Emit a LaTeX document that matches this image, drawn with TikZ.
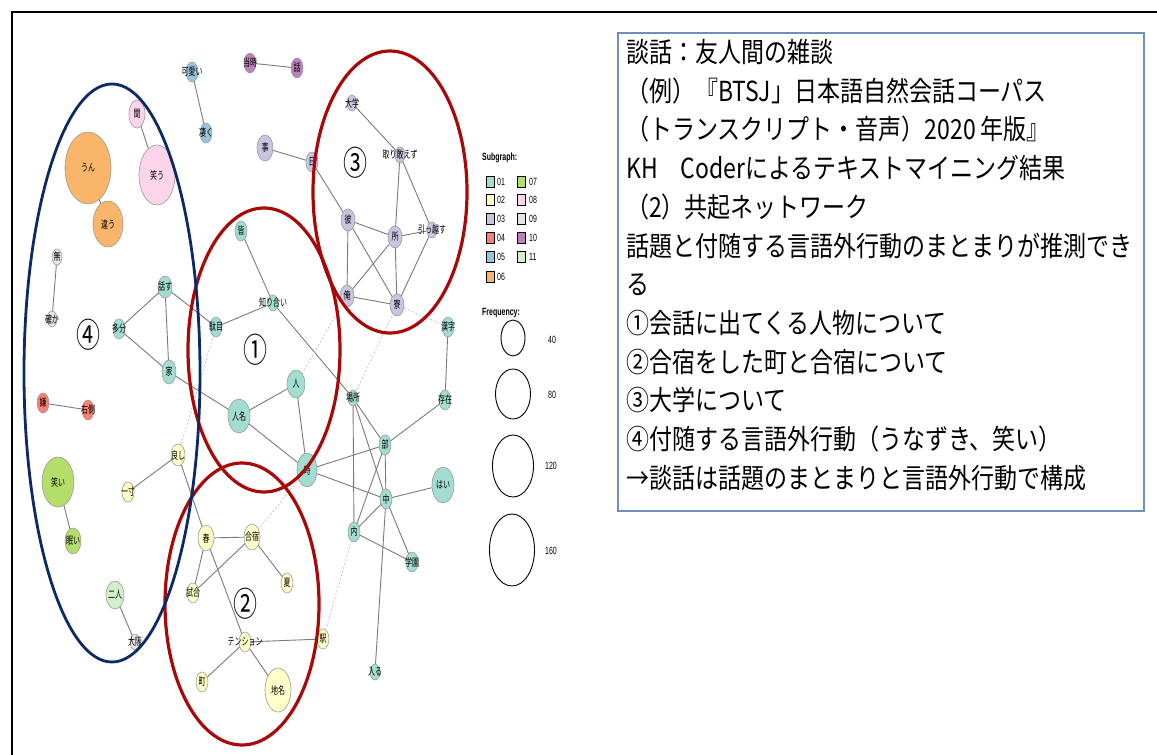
\documentclass[tikz,border=0pt]{standalone}
\usepackage{graphicx}
\usepackage{fontspec}
\setmainfont{Noto Sans CJK JP}
\newfontfamily\jpf{Noto Sans CJK JP}
\newfontfamily\lsans{Liberation Sans}
\usetikzlibrary{shapes.geometric,backgrounds}
\definecolor{c01}{HTML}{A3DDD2}
\definecolor{c02}{HTML}{FFFFC8}
\definecolor{c03}{HTML}{C8C4E2}
\definecolor{c04}{HTML}{FB8072}
\definecolor{c05}{HTML}{98C3DE}
\definecolor{c06}{HTML}{F9B56A}
\definecolor{c07}{HTML}{B3DE69}
\definecolor{c08}{HTML}{FCD5EA}
\definecolor{c09}{HTML}{E4E4E4}
\definecolor{c10}{HTML}{BC80BD}
\definecolor{c11}{HTML}{D2EFCB}
\definecolor{ndline}{HTML}{9A9A9A}
\definecolor{edgec}{HTML}{7A7A7A}
\definecolor{redc}{HTML}{A80808}
\definecolor{bluec}{HTML}{0B2A66}
\definecolor{boxc}{HTML}{7090BC}
\newcommand{\nlab}[1]{\scalebox{1}[1.5]{\fontsize{7}{7}\selectfont #1}}
\newcommand{\tlin}[1]{\scalebox{1}[1.2]{\fontsize{23}{23}\selectfont #1}}
\newcommand{\legtx}[1]{\scalebox{1}[1.5]{\lsans\fontsize{7}{7}\selectfont #1}}
\tikzset{
  nodest/.style={ellipse, draw=ndline, line width=0.6pt, inner sep=0pt},
  lblst/.style={inner sep=0pt, text=black},
  edge/.style={draw=edgec, line width=0.9pt},
  weak/.style={draw=gray!50, line width=0.7pt, dash pattern=on 2pt off 2pt},
  bigring/.style={line width=3.2pt},
  cnum/.style={inner sep=0pt, font=\jpf\fontsize{24}{24}\selectfont},
  sq/.style={draw=black, line width=0.6pt, minimum width=8pt, minimum height=11pt, inner sep=0pt},
  legt/.style={anchor=west, inner sep=0pt},
  fcirc/.style={ellipse, draw=black, line width=0.9pt, inner sep=0pt},
  tline/.style={anchor=west, inner sep=0pt}
}
\newcommand{\ndx}[6]{\node[nodest, fill=#3, minimum width=#4pt, minimum height=#5pt, label={[lblst]center:\nlab{#6}}] (#1) at (#2) {};}
\begin{document}
\begin{tikzpicture}[x=1pt,y=-1pt]
\useasboundingbox (0,0) rectangle (1157,755);
\draw[line width=1.2pt] (12,755) -- (12,12) -- (1157,12);

% ---- nodes ----
\ndx{kawaii}{192,72}{c05}{12}{20}{可愛い}
\ndx{sugoku}{206,133}{c05}{12}{20}{凄く}
\ndx{touji}{250,63}{c10}{12}{20}{当時}
\ndx{hanashi}{297,68}{c10}{12}{20}{話}
\ndx{koto}{265,148}{c03}{16}{26}{事}
\ndx{hi}{312,162}{c03}{12}{20}{日}
\ndx{daigaku}{352,103}{c03}{10}{16}{大学}
\ndx{toriaezu}{400,155}{c03}{10}{16}{取り敢えず}
\ndx{kare}{348,220}{c03}{14}{22}{彼}
\ndx{tokoro}{395,237}{c03}{14}{22}{所}
\ndx{hikkosu}{432,230}{c03}{10}{16}{引っ越す}
\ndx{ore}{347,296}{c03}{14}{22}{俺}
\ndx{ryou}{397,305}{c03}{14}{22}{寮}

\ndx{kiku}{137,114}{c08}{16}{28}{聞}
\ndx{warau}{157,175}{c08}{36}{60}{笑う}
\ndx{un}{88,168}{c06}{46}{72}{うん}
\ndx{chigau}{108,224}{c06}{30}{46}{違う}
\ndx{mu}{57,257}{c09}{10}{16}{無}
\ndx{tashika}{52,319}{c09}{10}{16}{確か}
\ndx{iya}{43,403}{c04}{12}{20}{嫌}
\ndx{migi}{88,410}{c04}{12}{20}{右側}
\ndx{warai}{58,482}{c07}{32}{50}{笑い}
\ndx{nemui}{73,541}{c07}{16}{26}{眠い}
\ndx{futari}{115,595}{c11}{18}{28}{二人}
\ndx{oosaka}{135,642}{c09}{10}{16}{大阪}

\ndx{mina}{241,231}{c01}{12}{20}{皆}
\ndx{shiri}{273,303}{c01}{10}{16}{知り合い}
\ndx{dame}{216,327}{c01}{12}{20}{駄目}
\ndx{hanasu}{165,287}{c01}{14}{22}{話す}
\ndx{tabun}{119,329}{c01}{12}{20}{多分}
\ndx{ie}{169,372}{c01}{14}{24}{家}
\ndx{hito}{296,384}{c01}{18}{28}{人}
\ndx{jinmei}{239,416}{c01}{22}{34}{人名}
\ndx{toki}{307,470}{c01}{20}{34}{時}
\ndx{basho}{353,398}{c01}{10}{16}{場所}
\ndx{kanji}{448,327}{c01}{12}{20}{漢字}
\ndx{sonzai}{445,400}{c01}{12}{20}{存在}
\ndx{bu}{385,445}{c01}{12}{20}{部}
\ndx{naka}{386,499}{c01}{12}{20}{中}
\ndx{hai}{443,485}{c01}{22}{36}{はい}
\ndx{uchi}{354,532}{c01}{12}{20}{内}
\ndx{gakuen}{412,562}{c01}{12}{20}{学園}
\ndx{hairu}{375,672}{c01}{10}{16}{入る}

\ndx{yoshi}{178,455}{c02}{14}{22}{良し}
\ndx{chotto}{128,492}{c02}{12}{20}{一寸}
\ndx{haru}{206,538}{c02}{16}{26}{春}
\ndx{gasshuku}{252,537}{c02}{16}{26}{合宿}
\ndx{shiai}{193,593}{c02}{12}{20}{試合}
\ndx{natsu}{287,583}{c02}{12}{20}{夏}
\ndx{tension}{245,642}{c02}{12}{20}{テンション}
\ndx{eki}{323,639}{c02}{12}{20}{駅}
\ndx{machi}{202,682}{c02}{12}{20}{町}
\ndx{chimei}{278,690}{c02}{26}{44}{地名}

% ---- edges ----
\begin{scope}[on background layer]
\foreach \a/\b in {kawaii/sugoku, touji/hanashi, koto/hi, hi/kare, daigaku/toriaezu,
  toriaezu/tokoro, toriaezu/hikkosu, kare/tokoro, tokoro/hikkosu, kare/ore, kare/ryou,
  tokoro/ore, tokoro/ryou, hikkosu/ryou, ore/ryou,
  kiku/warau, un/chigau, mu/tashika, iya/migi, warai/nemui, futari/oosaka,
  mina/shiri, shiri/dame, shiri/basho, dame/hanasu, hanasu/tabun, hanasu/ie, tabun/ie,
  ie/jinmei, jinmei/hito, jinmei/toki, hito/toki, toki/bu, toki/naka, basho/bu,
  basho/naka, basho/uchi, bu/naka, bu/uchi, bu/sonzai, sonzai/kanji, naka/hai,
  naka/uchi, naka/gakuen, naka/hairu, uchi/gakuen,
  yoshi/chotto, yoshi/haru, haru/gasshuku, haru/shiai, gasshuku/shiai, gasshuku/natsu,
  haru/tension, tension/chimei, tension/eki, tension/machi}
  \draw[edge] (\a.center) -- (\b.center);
\foreach \a/\b in {ryou/kanji, ryou/basho, hito/ore, dame/yoshi, toki/gasshuku, uchi/eki}
  \draw[weak] (\a.center) -- (\b.center);
\end{scope}

% ---- circled numbers ----
\node[cnum] (n1) at (255,350) {\scalebox{1}[1.4]{①}};
\node[cnum] (n2) at (245,604) {\scalebox{1}[1.4]{②}};
\node[cnum] (n3) at (355,163) {\scalebox{1}[1.4]{③}};
\node[cnum] (n4) at (88,335) {\scalebox{1}[1.4]{④}};

% ---- group rings ----
\draw[redc, bigring] (264,350) ellipse [x radius=76, y radius=142];
\draw[redc, bigring] (242,604) ellipse [x radius=77, y radius=141];
\draw[redc, bigring] (390,192) ellipse [x radius=77, y radius=141];
\draw[bluec, line width=2.8pt] (112,373) ellipse [x radius=88, y radius=289];

% ---- legend ----
\node[legt] (sgt) at (482,158) {\legtx{\bfseries Subgraph:}};
\foreach \i/\c/\t/\y in {1/c01/01/182, 2/c02/02/200, 3/c03/03/219, 4/c04/04/238, 5/c05/05/257, 6/c06/06/277}
  {\node[sq, fill=\c] (sqa\i) at (490,\y) {};
   \node[legt] (sla\i) at (497,\y) {\legtx{\t}};}
\foreach \i/\c/\t/\y in {1/c07/07/182, 2/c08/08/200, 3/c09/09/219, 4/c10/10/238, 5/c11/11/257}
  {\node[sq, fill=\c] (sqb\i) at (521,\y) {};
   \node[legt] (slb\i) at (529,\y) {\legtx{\t}};}
\node[legt] (frt) at (482,313) {\legtx{\bfseries Frequency:}};
\node[fcirc, minimum width=24pt, minimum height=36pt] (f40) at (513,338) {};
\node[fcirc, minimum width=35pt, minimum height=50pt] (f80) at (513,394) {};
\node[fcirc, minimum width=41pt, minimum height=62pt] (f120) at (513,466) {};
\node[fcirc, minimum width=45pt, minimum height=72pt] (f160) at (512,550) {};
\node[legt] (l40) at (548,340) {\legtx{40}};
\node[legt] (l80) at (548,395) {\legtx{80}};
\node[legt] (l120) at (545,466) {\legtx{120}};
\node[legt] (l160) at (545,551) {\legtx{160}};

% ---- text box ----
\node[draw=boxc, line width=1.6pt, minimum width=526pt, minimum height=478pt, anchor=north west, inner sep=0pt] (box) at (617,32) {};
\node[tline] (t1) at (626,52) {\tlin{談話：友人間の雑談}};
\node[tline] (t2) at (626,90.7) {\tlin{（例）『BTSJ」日本語自然会話コーパス}};
\node[tline] (t3) at (626,129.4) {\tlin{（トランスクリプト・音声）2020 年版』}};
\node[tline] (t4) at (626,168.1) {\tlin{KH　Coderによるテキストマイニング結果}};
\node[tline] (t5) at (626,206.8) {\tlin{（2）共起ネットワーク}};
\node[tline] (t6) at (626,245.5) {\tlin{話題と付随する言語外行動のまとまりが推測でき}};
\node[tline] (t7) at (626,284.2) {\tlin{る}};
\node[tline] (t8) at (626,322.9) {\tlin{①会話に出てくる人物について}};
\node[tline] (t9) at (626,361.6) {\tlin{②合宿をした町と合宿について}};
\node[tline] (t10) at (626,400.3) {\tlin{③大学について}};
\node[tline] (t11) at (626,439) {\tlin{④付随する言語外行動（うなずき、笑い）}};
\node[tline] (t12) at (626,477.7) {\tlin{→談話は話題のまとまりと言語外行動で構成}};
\end{tikzpicture}
\end{document}
